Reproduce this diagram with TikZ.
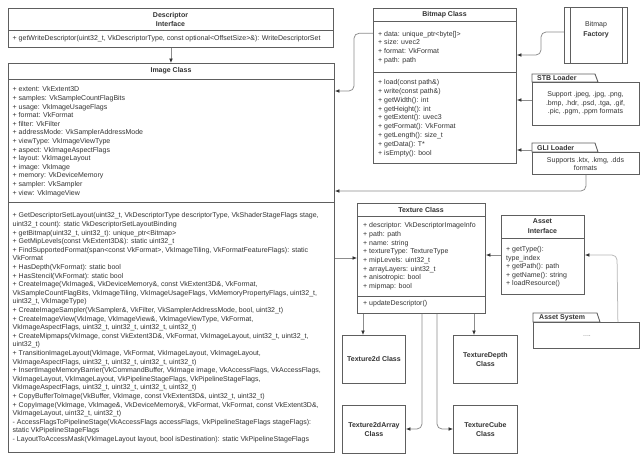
\documentclass[tikz,border=0pt]{standalone}
\usepackage{fontspec}
\setmainfont{Liberation Sans}
\usetikzlibrary{arrows.meta,calc}
\definecolor{boxc}{HTML}{5E5E5E}
\definecolor{txt}{HTML}{333333}
\definecolor{linec}{HTML}{8C8C8C}
\definecolor{lightc}{HTML}{B8B8B8}
\definecolor{tipc}{HTML}{333333}
\begin{document}
\begin{tikzpicture}[x=1pt,y=-1pt,
  box/.style={draw=boxc, line width=0.9pt, fill=white, inner sep=0pt, anchor=north west},
  divl/.style={draw=boxc, line width=0.9pt},
  txtl/.style={text=txt, inner sep=0pt, align=left, anchor=north west, font=\fontsize{7}{8.6}\selectfont},
  ttl/.style={text=txt, inner sep=0pt, align=center, font=\fontsize{7}{9.4}\selectfont\bfseries},
  mid/.style={text=txt, inner sep=0pt, align=center, font=\fontsize{7}{8.6}\selectfont},
  sub/.style={box, text=txt, align=center, font=\fontsize{7}{8.6}\selectfont\bfseries, minimum height=48pt},
  conn/.style={draw=linec, line width=0.75pt, rounded corners=5pt, -{Latex[length=4.5pt,width=3.8pt,color=tipc]}},
]
\useasboundingbox[fill=white] (0,0) rectangle (640,466);

% Descriptor Interface
\node[box, minimum width=325pt, minimum height=39pt] (desc) at (8,8) {};
\draw[divl] (desc.west |- 0,30) -- (desc.east |- 0,30);
\node[ttl] (descT) at (170.5,19.5) {Descriptor\\Interface};
\node[txtl, anchor=west] (descM) at (12.5,39) {+ getWriteDescriptor(uint32\_t, VkDescriptorType, const optional<OffsetSize>\&): WriteDescriptorSet};

% Image Class
\node[box, minimum width=326pt, minimum height=389pt] (img) at (8,63) {};
\draw[divl] (img.west |- 0,79) -- (img.east |- 0,79);
\draw[divl] (img.west |- 0,202) -- (img.east |- 0,202);
\node[ttl] (imgT) at (171,71) {Image Class};
\node[txtl] (imgA) at (12.5,86.6) {+ extent: VkExtent3D\\
+ samples: VkSampleCountFlagBits\\
+ usage: VkImageUsageFlags\\
+ format: VkFormat\\
+ filter: VkFilter\\
+ addressMode: VkSamplerAddressMode\\
+ viewType: VkImageViewType\\
+ aspect: VkImageAspectFlags\\
+ layout: VkImageLayout\\
+ image: VkImage\\
+ memory: VkDeviceMemory\\
+ sampler: VkSampler\\
+ view: VkImageView};
\node[txtl] (imgM) at (12.5,212.6) {+ GetDescriptorSetLayout(uint32\_t, VkDescriptorType descriptorType, VkShaderStageFlags stage,\\
uint32\_t count): static VkDescriptorSetLayoutBinding\\
+ getBitmap(uint32\_t, uint32\_t): unique\_ptr<Bitmap>\\
+ GetMipLevels(const VkExtent3D\&): static uint32\_t\\
+ FindSupportedFormat(span<const VkFormat>, VkImageTiling, VkFormatFeatureFlags): static\\
VkFormat\\
+ HasDepth(VkFormat): static bool\\
+ HasStencil(VkFormat): static bool\\
+ CreateImage(VkImage\&, VkDeviceMemory\&, const VkExtent3D\&, VkFormat,\\
VkSampleCountFlagBits, VkImageTiling, VkImageUsageFlags, VkMemoryPropertyFlags, uint32\_t,\\
uint32\_t, VkImageType)\\
+ CreateImageSampler(VkSampler\&, VkFilter, VkSamplerAddressMode, bool, uint32\_t)\\
+ CreateImageView(VkImage, VkImageView\&, VkImageViewType, VkFormat,\\
VkImageAspectFlags, uint32\_t, uint32\_t, uint32\_t, uint32\_t)\\
+ CreateMipmaps(VkImage, const VkExtent3D\&, VkFormat, VkImageLayout, uint32\_t, uint32\_t,\\
uint32\_t)\\
+ TransitionImageLayout(VkImage, VkFormat, VkImageLayout, VkImageLayout,\\
VkImageAspectFlags, uint32\_t, uint32\_t, uint32\_t, uint32\_t)\\
+ InsertImageMemoryBarrier(VkCommandBuffer, VkImage image, VkAccessFlags, VkAccessFlags,\\
VkImageLayout, VkImageLayout, VkPipelineStageFlags, VkPipelineStageFlags,\\
VkImageAspectFlags, uint32\_t, uint32\_t, uint32\_t, uint32\_t)\\
+ CopyBufferToImage(VkBuffer, VkImage, const VkExtent3D\&, uint32\_t, uint32\_t)\\
+ CopyImage(VkImage, VkImage\&, VkDeviceMemory\&, VkFormat, VkFormat, const VkExtent3D\&,\\
VkImageLayout, uint32\_t, uint32\_t)\\
- AccessFlagsToPipelineStage(VkAccessFlags accessFlags, VkPipelineStageFlags stageFlags):\\
static VkPipelineStageFlags\\
- LayoutToAccessMask(VkImageLayout layout, bool isDestination): static VkPipelineStageFlags};

% Bitmap Class
\node[box, minimum width=143pt, minimum height=155.5pt] (bmp) at (373,7.5) {};
\draw[divl] (bmp.west |- 0,21) -- (bmp.east |- 0,21);
\draw[divl] (bmp.west |- 0,72) -- (bmp.east |- 0,72);
\node[ttl] (bmpT) at (444.5,14.5) {Bitmap Class};
\node[txtl, font=\fontsize{7}{8.85}\selectfont] (bmpA) at (378,30.8) {+ data: unique\_ptr<byte[]>\\
+ size: uvec2\\
+ format: VkFormat\\
+ path: path};
\node[txtl, font=\fontsize{7}{8.85}\selectfont] (bmpM) at (378,79.2) {+ load(const path\&)\\
+ write(const path\&)\\
+ getWidth(): int\\
+ getHeight(): int\\
+ getExtent(): uvec3\\
+ getFormat(): VkFormat\\
+ getLength(): size\_t\\
+ getData(): T*\\
+ isEmpty(): bool};

% Bitmap Factory
\node[box, minimum width=63pt, minimum height=56pt] (fac) at (564,7) {};
\draw[divl] ($(fac.north west)+(6,0)$) -- ($(fac.south west)+(6,0)$);
\draw[divl] ($(fac.north east)+(-5,0)$) -- ($(fac.south east)+(-5,0)$);
\node[mid, font=\fontsize{7}{10}\selectfont] (facT) at (596,30) {Bitmap\\\textbf{Factory}};

% STB Loader
\draw[divl, fill=white] (532,82) -- (532,74) -- (595,74) -- (598,82) -- cycle;
\node[box, minimum width=107pt, minimum height=43pt] (stb) at (532,82) {};
\node[ttl, anchor=west] (stbT) at (537,78.3) {STB Loader};
\node[mid] (stbX) at (585.5,103.5) {Support .jpeg, .jpg, .png,\\.bmp, .hdr, .psd, .tga, .gif,\\.pic, .pgm, .ppm formats};

% GLI Loader
\draw[divl, fill=white] (532,152) -- (532,143) -- (595,143) -- (598,152) -- cycle;
\node[box, minimum width=107pt, minimum height=22pt] (gli) at (532,152) {};
\node[ttl, anchor=west] (gliT) at (537,147.5) {GLI Loader};
\node[mid] (gliX) at (585.5,164) {Supports .ktx, .kmg, .dds\\formats};

% Texture Class
\node[box, minimum width=128pt, minimum height=110pt] (tex) at (357,203) {};
\draw[divl] (tex.west |- 0,216) -- (tex.east |- 0,216);
\draw[divl] (tex.west |- 0,296) -- (tex.east |- 0,296);
\node[ttl] (texT) at (421,209.5) {Texture Class};
\node[txtl, font=\fontsize{7}{8.7}\selectfont] (texA) at (363,222.5) {+ descriptor: VkDescriptorImageInfo\\
+ path: path\\
+ name: string\\
+ textureType: TextureType\\
+ mipLevels: uint32\_t\\
+ arrayLayers: uint32\_t\\
+ anisotropic: bool\\
+ mipmap: bool};
\node[txtl, anchor=west] (texM) at (363,304) {+ updateDescriptor()};

% Asset Interface
\node[box, minimum width=83pt, minimum height=79pt] (ai) at (501,215) {};
\draw[divl] (ai.west |- 0,238) -- (ai.east |- 0,238);
\node[ttl] (aiT) at (542.5,226) {Asset\\Interface};
\node[txtl, font=\fontsize{7}{8.5}\selectfont] (aiM) at (506,246.6) {+ getType():\\
type\_index\\
+ getPath(): path\\
+ getName(): string\\
+ loadResource()};

% Asset System
\draw[divl, fill=white] (533,322) -- (533,313) -- (597,313) -- (600,322) -- cycle;
\node[box, minimum width=106pt, minimum height=26pt] (asys) at (533,322) {};
\node[ttl, anchor=west] (asysT) at (539,317.5) {Asset System};
\node[mid, text=black!50] (asysX) at (587,336) {....};

% Texture subclasses
\node[sub, minimum width=63pt] (t2d) at (342,335) {Texture2d Class};
\node[sub, minimum width=64pt] (tdep) at (453,335) {TextureDepth\\Class};
\node[sub, minimum width=63pt] (t2da) at (342,405) {Texture2dArray\\Class};
\node[sub, minimum width=64pt] (tcube) at (453,405) {TextureCube\\Class};

% Connectors
\draw[conn] (desc.south) -- (desc.south |- img.north);
\draw[conn] (bmp.west |- 0,33.3) -- (354,33.3) -- (354,91) -- (img.east |- 0,91);
\draw[conn] (gli.south) -- (gli.south |- 0,191) -- (img.east |- 0,191);
\draw[conn] (fac.west |- 0,32) -- (541,32) -- (541,55) -- (bmp.east |- 0,55);
\draw[conn] (stb.west |- 0,100) -- (bmp.east |- 0,100);
\draw[conn] (gli.west |- 0,150) -- (bmp.east |- 0,150);
\draw[conn] (img.east |- 0,258) -- (tex.west |- 0,258);
\draw[conn] (ai.west |- 0,255) -- (tex.east |- 0,255);
\draw[conn, draw=lightc] ($(asys.north east)+(-22,0)$) -- (617,255) -- (ai.east |- 0,255);
\draw[conn] (tex.south -| 363,0) -- (t2d.north -| 363,0);
\draw[conn] (tex.south -| 474,0) -- (tdep.north -| 474,0);
\draw[conn] (tex.south -| 422,0) -- (422,429) -- (t2da.east |- 0,429);
\draw[conn] (tex.south -| 437,0) -- (437,429) -- (tcube.west |- 0,429);
\end{tikzpicture}
\end{document}
